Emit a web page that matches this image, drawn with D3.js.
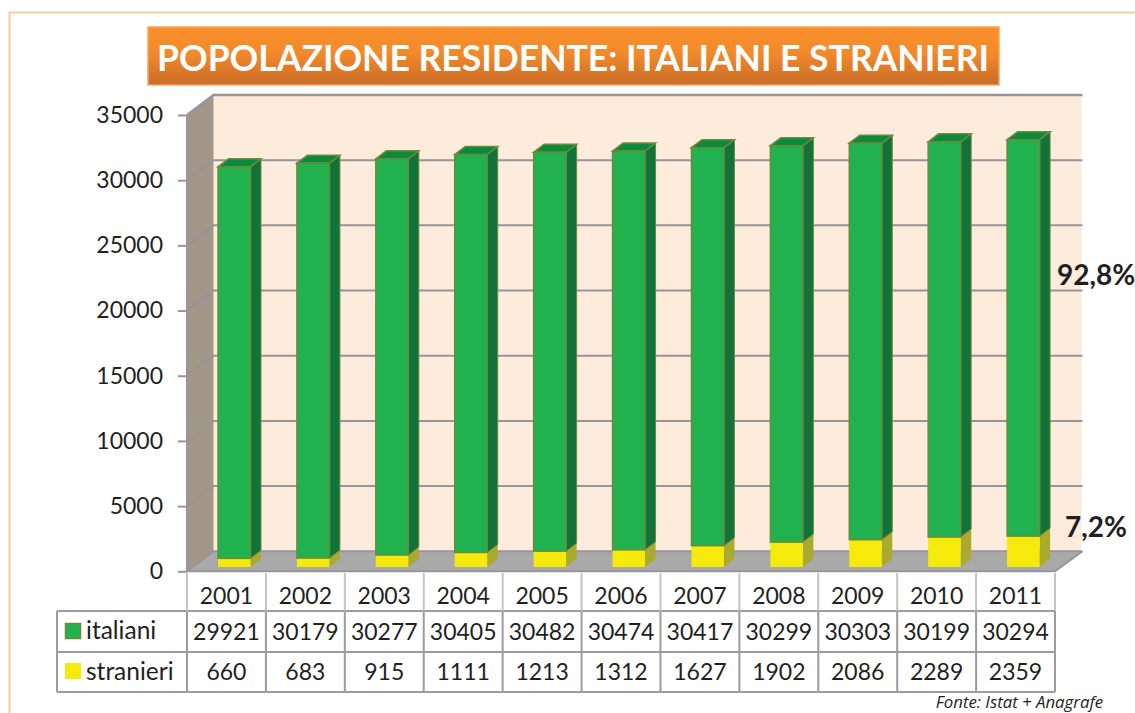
<!DOCTYPE html>
<html><head><meta charset="utf-8">
<script src="https://cdn.jsdelivr.net/npm/d3@7/dist/d3.min.js"></script>
<style>html,body{margin:0;padding:0;background:#fff;overflow:hidden}svg{display:block}text{font-family:Lato,"Open Sans",sans-serif;fill:#231f20}</style>
</head><body><svg id="c" width="1135" height="713"></svg>
<script>
const titleText = "POPOLAZIONE RESIDENTE: ITALIANI E STRANIERI";
const years = ["2001","2002","2003","2004","2005","2006","2007","2008","2009","2010","2011"];
const italiani = [29921,30179,30277,30405,30482,30474,30417,30299,30303,30199,30294];
const stranieri = [660,683,915,1111,1213,1312,1627,1902,2086,2289,2359];
const yTicks = [0,5000,10000,15000,20000,25000,30000,35000];
const seriesNames = ["italiani","stranieri"];
const noteItaliani = "92,8%", noteStranieri = "7,2%", source = "Fonte: Istat + Anagrafe";

const svg = d3.select("#c");
const x = d3.scaleBand().domain(years).range([187,1055]);
const y = d3.scaleLinear().domain([0,35000]).range([571.3,115]);
const yBar = d3.scaleLinear().domain([0,35000]).range([567,109]);
const dX = 26.5, dY = -20, bX = 31, bW = 32.5, sX = 10.5, sY = -8;
const grey = "#96969a";

const defs = svg.append("defs");
const g = defs.append("linearGradient").attr("id","tg").attr("x1",0).attr("x2",0).attr("y1",0).attr("y2",1);
g.append("stop").attr("offset",0).attr("stop-color","#fa902c");
g.append("stop").attr("offset",.45).attr("stop-color","#f28a2b");
g.append("stop").attr("offset",1).attr("stop-color","#c96c27");

// page frame
svg.append("path").attr("d","M9.5 713V12.5H1135").attr("fill","none").attr("stroke","#fbc9a0").attr("stroke-width",2);

// title
svg.append("rect").attr("x",148).attr("y",27).attr("width",851).attr("height",58)
  .attr("fill","url(#tg)").attr("stroke","#f7a55e").attr("stroke-width",1.5);
svg.append("text").attr("x",573).attr("y",71).attr("text-anchor","middle").attr("font-size",35.5)
  .attr("font-weight",700).style("fill","#fff").text(titleText);

// walls
const y0 = y(0), yT = y(35000), xL = x.range()[0], xR = x.range()[1];
svg.append("rect").attr("x",xL+dX).attr("y",yT+dY).attr("width",xR-xL).attr("height",y0-yT)
  .attr("fill","#fdebdb");
svg.append("path").attr("d",`M${xL} ${y0}L${xL} ${yT}L${xL+dX} ${yT+dY}L${xL+dX} ${y0+dY}Z`)
  .attr("fill","#a39789");
svg.append("path").attr("d",`M${xL} ${y0}L${xL+dX} ${y0+dY}L${xR+dX+1} ${y0+dY}L${xR} ${y0}Z`)
  .attr("fill","#a9a9a9");

// grid
yTicks.forEach(t=>{
  svg.append("path").attr("d",`M${xL} ${y(t)}L${xL+dX} ${y(t)+dY}L${xR+dX+1} ${y(t)+dY}`)
    .attr("fill","none").attr("stroke",grey).attr("stroke-width",t===35000?2.5:2);
});
svg.append("path").attr("d",`M${xL} ${y0}L${xR} ${y0}L${xR+dX+1} ${y0+dY}`).attr("fill","none").attr("stroke",grey).attr("stroke-width",2);
svg.append("line").attr("x1",xL).attr("x2",xL).attr("y1",yT).attr("y2",y0).attr("stroke",grey).attr("stroke-width",2);

// axis
const ax = svg.append("g").attr("transform",`translate(${xL},0)`)
  .call(d3.axisLeft(y).tickValues(yTicks).tickSize(9).tickPadding(15).tickFormat(d3.format("d")));
ax.select(".domain").remove();
ax.selectAll("line").attr("stroke",grey).attr("stroke-width",2);
ax.selectAll("text").attr("font-size",23).attr("dy","0.32em").style("font-family","Lato");

// bars
function box(sel, bx, top, bot, front, side, cap, stroke){
  const w = bW;
  sel.append("path").attr("d",`M${bx+w} ${top}L${bx+w+sX} ${top+sY}L${bx+w+sX} ${bot+sY}L${bx+w} ${bot}Z`)
    .attr("fill",side).attr("stroke",stroke).attr("stroke-width",stroke==="none"?0:1);
  if(cap) sel.append("path").attr("d",`M${bx} ${top}L${bx+sX} ${top+sY}L${bx+w+sX} ${top+sY}L${bx+w} ${top}Z`)
    .attr("fill",cap).attr("stroke",stroke).attr("stroke-width",1.5);
  sel.append("rect").attr("x",bx).attr("y",top).attr("width",w).attr("height",bot-top)
    .attr("fill",front).attr("stroke",stroke).attr("stroke-width",stroke==="none"?0:1.5);
}
years.forEach((yr,i)=>{
  const bx = x(yr)+bX, grp = svg.append("g");
  const s = stranieri[i], t = s+italiani[i];
  box(grp,bx,yBar(s),yBar(0),"#f5ea0c","#a9aa2e",null,"none");
  box(grp,bx,yBar(t),yBar(s),"#22b14f","#11733a","#0b8a3e","#6d8a3a");
});

// table
const rows = [573,611,652,692], tl = 57;
const col = d3.range(12).map(i=> i<11 ? x(years[i]) : xR);
const tc = "#9c9ca0";
svg.append("path").attr("d",`M${tl} ${rows[3]}H${xR}M${tl} ${rows[2]}H${xR}M${tl} ${rows[1]}H${xR}M${tl} ${rows[1]}V${rows[3]}`)
  .attr("fill","none").attr("stroke",tc).attr("stroke-width",2);
col.forEach((c,i)=>{
  svg.append("line").attr("x1",c).attr("x2",c).attr("y1",rows[0]).attr("y2",rows[1]).attr("stroke","#c4c4c6").attr("stroke-width",2);
  svg.append("line").attr("x1",c).attr("x2",c).attr("y1",rows[1]).attr("y2",rows[3]).attr("stroke",tc).attr("stroke-width",2);
});
const fs = 23, cell = (v,cx,by)=>svg.append("text").attr("x",cx).attr("y",by).attr("text-anchor","middle").attr("font-size",fs).text(v);
years.forEach((yr,i)=>{
  const cx = x(yr)+x.bandwidth()/2;
  cell(yr,cx,604); cell(italiani[i],cx,640); cell(stranieri[i],cx,680);
});
svg.append("rect").attr("x",65.5).attr("y",623.5).attr("width",15).attr("height",15).attr("fill","#22b14f").attr("stroke","#6d8a3a").attr("stroke-width",1.5);
svg.append("rect").attr("x",65).attr("y",663).attr("width",16).attr("height",16).attr("fill","#f5ea0c");
svg.append("text").attr("x",86).attr("y",639).attr("font-size",24.5).text(seriesNames[0]);
svg.append("text").attr("x",86).attr("y",680).attr("font-size",24.5).text(seriesNames[1]);

// notes
svg.append("text").attr("x",1057).attr("y",285).attr("font-size",28).attr("font-weight",700).text(noteItaliani);
svg.append("text").attr("x",1065).attr("y",537).attr("font-size",28).attr("font-weight",700).text(noteStranieri);
svg.append("text").attr("x",1103).attr("y",708).attr("text-anchor","end").attr("font-size",16.8).attr("font-style","italic").style("font-family","'Open Sans'").text(source);
</script></body></html>
